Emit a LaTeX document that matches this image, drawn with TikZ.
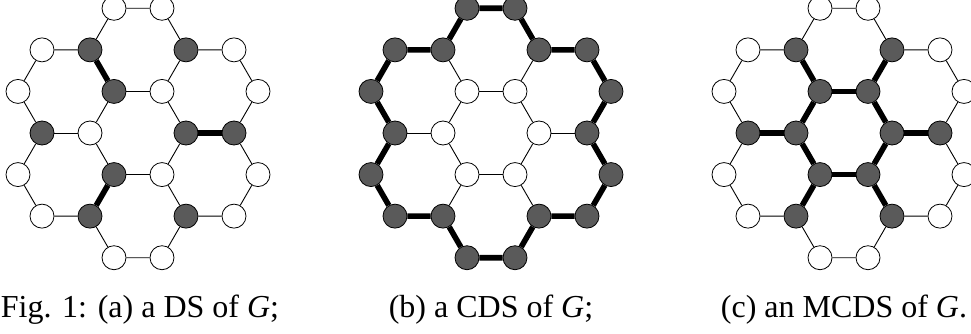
\documentclass[tikz,border=0pt]{standalone}
\usepackage{fontspec}
\setmainfont{Liberation Serif}
\usetikzlibrary{backgrounds}
\definecolor{domgray}{HTML}{5A5A5A}

\tikzset{
  free/.style={circle, draw, fill=white, minimum size=24bp, inner sep=0pt, line width=0.8bp},
  dom/.style={free, fill=domgray},
  lite/.style={line width=0.9bp},
  heavy/.style={line width=5.6bp},
  caption/.style={anchor=base, inner sep=0pt, font=\fontsize{32bp}{38bp}\selectfont},
  % (a) a DS
  ctr a0/.style=dom,  ctr a1/.style=free, spv a/.style=dom, rimv a/.style=free,
  hub a/.style=lite,  spk a0/.style=heavy, spk a1/.style=lite, rim a/.style=lite,
  % (b) a CDS
  ctr b0/.style=free, ctr b1/.style=free, spv b/.style=dom, rimv b/.style=dom,
  hub b/.style=lite,  spk b0/.style=lite,  spk b1/.style=lite, rim b/.style=heavy,
  % (c) an MCDS
  ctr c0/.style=dom,  ctr c1/.style=dom,  spv c/.style=dom, rimv c/.style=free,
  hub c/.style=heavy, spk c0/.style=heavy, spk c1/.style=heavy, rim c/.style=lite,
}

\begin{document}
\begin{tikzpicture}[x=1bp, y=1bp]
  \useasboundingbox (0,0) rectangle (971,333);
  % three copies of G
  \foreach \p/\cx in {a/138, b/491, c/844} {
    \begin{scope}[shift={(\cx,200)}]
      % vertices: inner hexagon, spokes, outer rim
      \foreach \k [evaluate=\k as \m using {int(mod(\k,2))}] in {0,...,5} {
        \node[ctr \p\m] (\p c\k) at (60*\k:48) {};
        \node[spv \p]   (\p s\k) at (60*\k:96) {};
        \node[rimv \p]  (\p l\k) at (60*\k+19.107:127) {};
        \node[rimv \p]  (\p r\k) at (60*\k+40.893:127) {};
      }
      % edges
      \begin{scope}[on background layer]
        \foreach \k [evaluate=\k as \m using {int(mod(\k,2))},
                     evaluate=\k as \kk using {int(mod(\k+1,6))}] in {0,...,5} {
          \draw[hub \p]   (\p c\k) -- (\p c\kk);
          \draw[spk \p\m] (\p c\k) -- (\p s\k);
          \draw[rim \p]   (\p s\k) -- (\p l\k) -- (\p r\k) -- (\p s\kk);
        }
      \end{scope}
    \end{scope}
  }
  % captions
  \node[caption] (capa) at (140,16) {Fig. 1: (a) a DS of \textit{G};};
  \node[caption] (capb) at (491,16) {(b) a CDS of \textit{G};};
  \node[caption] (capc) at (844,16) {(c) an MCDS of \textit{G}.};
\end{tikzpicture}
\end{document}
